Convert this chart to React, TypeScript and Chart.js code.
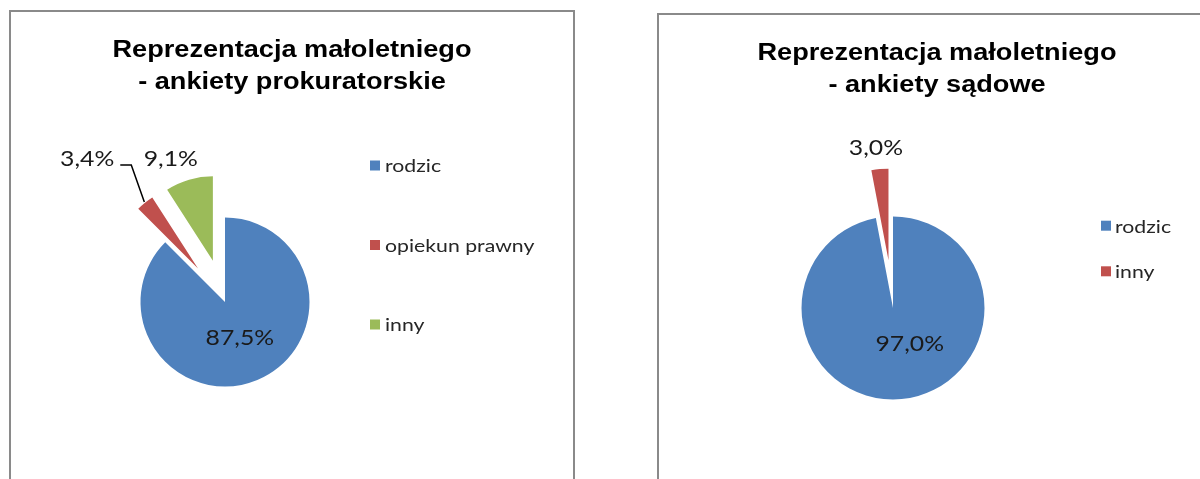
import React, { useEffect, useRef } from "react";
import { Chart, registerables } from "chart.js";

Chart.register(...registerables);

// ---------- data ----------
const leftTitle = ["Reprezentacja małoletniego", "- ankiety prokuratorskie"];
const leftCategories = ["rodzic", "opiekun prawny", "inny"];
const leftValues = [87.5, 3.4, 9.1];
const leftColors = ["#4F81BD", "#C0504D", "#9BBB59"];

const rightTitle = ["Reprezentacja małoletniego", "- ankiety sądowe"];
const rightCategories = ["rodzic", "inny"];
const rightValues = [97.0, 3.0];
const rightColors = ["#4F81BD", "#C0504D"];

// ---------- style ----------
const SX = 1.18; // horizontal text stretch seen in the reference
const TITLE_FONT = "bold 23px 'Liberation Sans', Arial, sans-serif";
const LABEL_FONT = "21px Lato, 'Open Sans', sans-serif";
const LEGEND_FONT = "18px Lato, 'Open Sans', sans-serif";

const fmt = (v: number) => v.toFixed(1).replace(".", ",") + "%";

type LabelSpec = {
  outside: boolean;
  dist: number;
  dx: number;
  dy: number;
  leader?: boolean;
};

type PanelProps = {
  title: string[];
  categories: string[];
  values: number[];
  colors: string[];
  width: number;
  height: number;
  radius: number;
  padding: { left: number; right: number; top: number; bottom: number };
  explode: number[];
  labelSpecs: LabelSpec[];
  legend: { x: number; y: number; gap: number; box: number; textX: number };
  titleY: number[];
  boxLeft: number;
  boxTop: number;
};

function stretchText(
  ctx: CanvasRenderingContext2D,
  text: string,
  x: number,
  y: number,
  align: CanvasTextAlign
) {
  ctx.save();
  ctx.translate(x, y);
  ctx.scale(SX, 1);
  ctx.textAlign = align;
  ctx.fillText(text, 0, 0);
  ctx.restore();
}

function PiePanel(p: PanelProps) {
  const ref = useRef<HTMLCanvasElement | null>(null);

  useEffect(() => {
    const canvas = ref.current;
    if (!canvas) return;

    const explodePlugin = {
      id: "explodeSlices",
      afterDatasetsUpdate(chart: any) {
        const meta = chart.getDatasetMeta(0);
        meta.data.forEach((el: any, i: number) => {
          const d = p.explode[i] || 0;
          if (!d) return;
          const mid = (el.startAngle + el.endAngle) / 2;
          el.x += Math.cos(mid) * d;
          el.y += Math.sin(mid) * d;
        });
      },
    };

    const overlayPlugin = {
      id: "overlayText",
      afterDatasetsDraw(chart: any) {
        const ctx: CanvasRenderingContext2D = chart.ctx;
        const meta = chart.getDatasetMeta(0);
        ctx.save();
        ctx.font = LABEL_FONT;
        ctx.fillStyle = "#1a1a1a";
        ctx.textBaseline = "middle";
        meta.data.forEach((el: any, i: number) => {
          const spec = p.labelSpecs[i];
          if (!spec) return;
          const mid = (el.startAngle + el.endAngle) / 2;
          const r = el.outerRadius;
          const dist = spec.outside ? r + spec.dist : spec.dist;
          const lx = el.x + Math.cos(mid) * dist + spec.dx;
          const ly = el.y + Math.sin(mid) * dist + spec.dy;
          const text = fmt(p.values[i]);
          stretchText(ctx, text, lx, ly, "center");
          if (spec.leader) {
            const w = ctx.measureText(text).width * SX;
            const right = lx + w / 2;
            const sx = el.x + Math.cos(mid) * (r + 1);
            const sy = el.y + Math.sin(mid) * (r + 1);
            ctx.save();
            ctx.strokeStyle = "#000000";
            ctx.lineWidth = 1.5;
            ctx.beginPath();
            ctx.moveTo(sx, sy);
            ctx.lineTo(right + 17, ly + 6);
            ctx.lineTo(right + 6, ly + 6);
            ctx.stroke();
            ctx.restore();
          }
        });
        ctx.restore();
      },
      afterDraw(chart: any) {
        const ctx: CanvasRenderingContext2D = chart.ctx;
        const W = chart.width;
        ctx.save();
        // title
        ctx.font = TITLE_FONT;
        ctx.fillStyle = "#000000";
        ctx.textBaseline = "alphabetic";
        p.title.forEach((line, i) => {
          stretchText(ctx, line, W / 2, p.titleY[i], "center");
        });
        // legend
        ctx.font = LEGEND_FONT;
        ctx.textBaseline = "middle";
        p.categories.forEach((cat, i) => {
          const cy = p.legend.y + i * p.legend.gap;
          ctx.fillStyle = p.colors[i];
          ctx.fillRect(p.legend.x, cy - p.legend.box / 2, p.legend.box, p.legend.box);
          ctx.fillStyle = "#262626";
          stretchText(ctx, cat, p.legend.textX, cy + 1, "left");
        });
        ctx.restore();
      },
    };

    const chart = new Chart(canvas, {
      type: "pie",
      data: {
        labels: p.categories,
        datasets: [
          {
            data: p.values,
            backgroundColor: p.colors,
            borderWidth: 0,
          },
        ],
      },
      options: {
        responsive: false,
        animation: false,
        events: [],
        radius: p.radius,
        layout: { padding: p.padding },
        plugins: {
          legend: { display: false },
          title: { display: false },
          tooltip: { enabled: false },
        },
      } as any,
      plugins: [explodePlugin, overlayPlugin],
    });

    return () => chart.destroy();
  }, []);

  return (
    <div
      style={{
        position: "absolute",
        left: p.boxLeft,
        top: p.boxTop,
        width: p.width,
        height: p.height,
        borderLeft: "2px solid #8a8a8a",
        borderTop: "2px solid #8a8a8a",
        borderRight: "2px solid #8a8a8a",
        background: "#ffffff",
      }}
    >
      <canvas ref={ref} width={p.width} height={p.height} style={{ display: "block" }} />
    </div>
  );
}

export default function App() {
  return (
    <div
      style={{
        position: "fixed",
        left: 0,
        top: 0,
        width: 1200,
        height: 479,
        overflow: "hidden",
        background: "#ffffff",
      }}
    >
      <PiePanel
        title={leftTitle}
        categories={leftCategories}
        values={leftValues}
        colors={leftColors}
        width={562}
        height={480}
        radius={84.5}
        padding={{ left: 0, right: 134, top: 100, bottom: 0 }}
        explode={[0, 43, 43]}
        labelSpecs={[
          { outside: false, dist: 39, dx: 0, dy: 0 },
          { outside: true, dist: 22, dx: -44, dy: -26.6, leader: true },
          { outside: true, dist: 25.5, dx: -11, dy: 4 },
        ]}
        legend={{ x: 359, y: 153.5, gap: 79.5, box: 10, textX: 374 }}
        titleY={[45, 76.5]}
        boxLeft={9}
        boxTop={10}
      />
      <PiePanel
        title={rightTitle}
        categories={rightCategories}
        values={rightValues}
        colors={rightColors}
        width={556}
        height={480}
        radius={91.5}
        padding={{ left: 0, right: 88, top: 106, bottom: 0 }}
        explode={[0, 48]}
        labelSpecs={[
          { outside: false, dist: 39.5, dx: 13, dy: -3 },
          { outside: true, dist: 21, dx: -2, dy: 0 },
        ]}
        legend={{ x: 442, y: 210.7, gap: 45.6, box: 10, textX: 456 }}
        titleY={[45, 76.5]}
        boxLeft={657}
        boxTop={13}
      />
    </div>
  );
}
